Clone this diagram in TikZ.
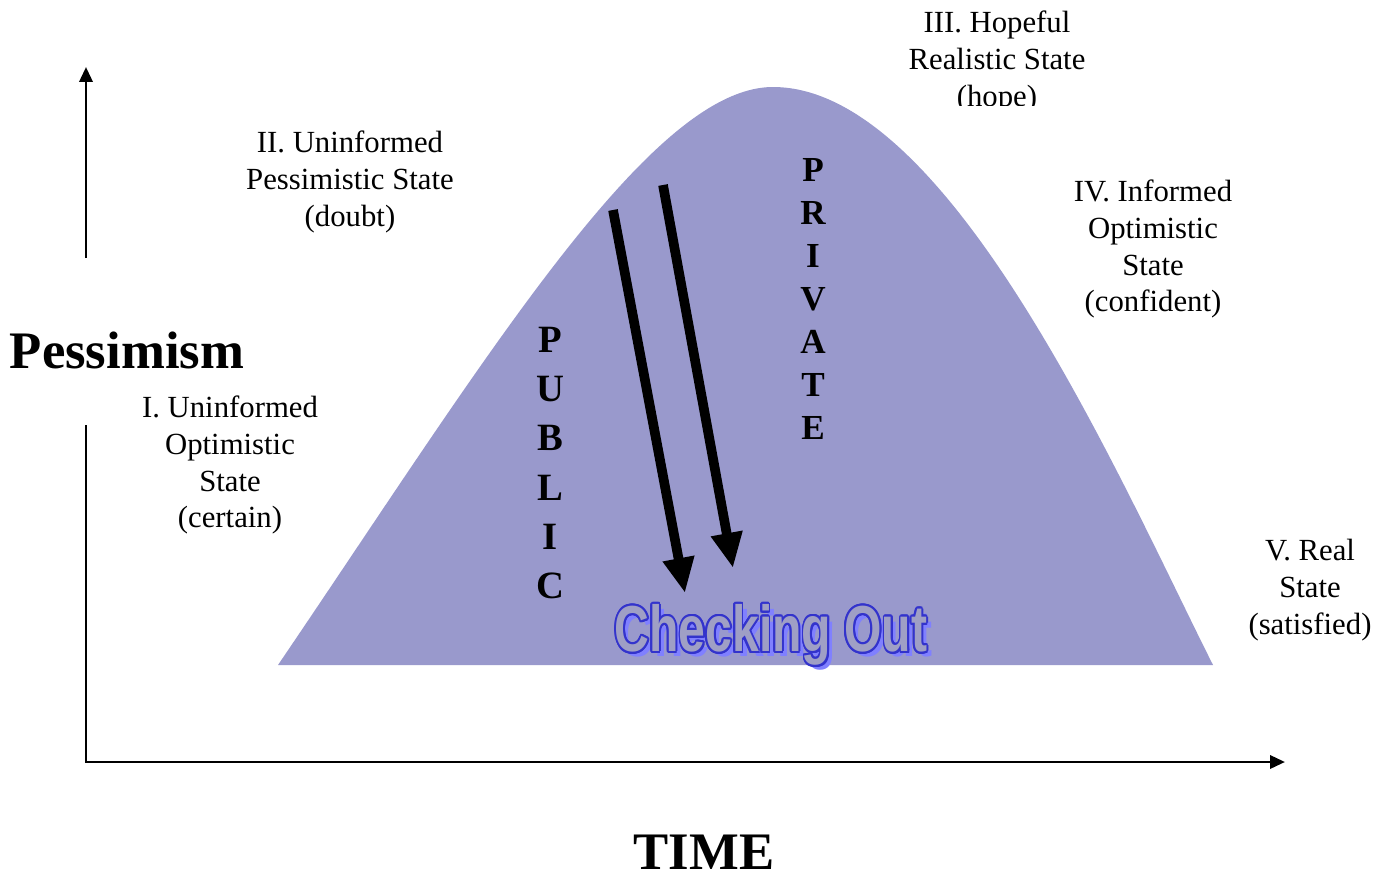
\documentclass[tikz,border=0pt]{standalone}
\usepackage{fontspec}
\setmainfont{Liberation Serif}
\newfontfamily\artfont{Liberation Sans}
\usetikzlibrary{arrows.meta}
\definecolor{hump}{HTML}{9999CC}
\definecolor{artfill}{HTML}{9F9FC5}
\definecolor{artline}{HTML}{3333CC}
\definecolor{artshade}{HTML}{8080FF}
\tikzset{
  state/.style={align=center, font=\fontsize{17.5}{21}\selectfont},
  stack/.style 2 args={align=center, font=\fontsize{#1}{#2}\selectfont\bfseries},
  art/.style={font=\fontsize{37}{40}\artfont\bfseries, xscale=.74, inner sep=0pt},
}
\begin{document}
\begin{tikzpicture}[x=0.02cm, y=-0.02cm, >={Triangle[length=8.5pt,width=7.5pt]}]
    \useasboundingbox (0,0) rectangle (1384,873);
    % the hump
    \fill[hump](278,665) .. controls (485,360) and (650,87) .. (773,87)
        .. controls (950,87) and (1120,480) .. (1213,665) -- cycle;
    % axes
    \coordinate (ylow) at (86,258);
    \coordinate (ytop) at (86,67);
    \coordinate (ymid) at (86,425);
    \coordinate (orig) at (86,762);
    \coordinate (xend) at (1285,762);
    \draw[->, line width=1.6pt](ylow)--(ytop);
    \draw[->, line width=1.6pt](ymid)--(orig)--(xend);
    \node[font=\fontsize{30}{30}\selectfont\bfseries, inner sep=0pt] (pess) at (127,350) {Pessimism};
    \node[font=\fontsize{30}{30}\selectfont\bfseries, inner sep=0pt] (time) at (704,852) {TIME};
    % states
    \begin{scope}
        \clip (880,0) rectangle (1110,105);
        \node[state] (hope) at (997,62) {III. Hopeful\\Realistic State\\(hope)};
    \end{scope}
    \node[state] (doubt) at (350,182) {II. Uninformed\\Pessimistic State\\(doubt)};
    \node[state] (confident) at (1153,249) {IV. Informed\\Optimistic\\State\\(confident)};
    \node[state] (certain) at (230,465) {I. Uninformed\\Optimistic\\State\\(certain)};
    \node[state] (satisfied) at (1310,590) {V. Real\\State\\(satisfied)};
    % public / private
    \node[stack={22}{28}] (public) at (550,463) {P\\U\\B\\L\\I\\C};
    \node[stack={20}{24.4}] (private) at (813,299) {P\\R\\I\\V\\A\\T\\E};
    \coordinate (pubA) at (613,210);
    \coordinate (pubB) at (685,593);
    \coordinate (priA) at (663,185);
    \coordinate (priB) at (733,568);
    \draw[-{Triangle[length=20pt,width=17pt]}, line width=5.5pt](pubA)--(pubB);
    \draw[-{Triangle[length=20pt,width=17pt]}, line width=5.5pt](priA)--(priB);
    % checking out
    \node[art, text=artshade] at (776,640) {Checking Out};
    \foreach \a in {0,20,...,340}
        \node[art, text=artline, xshift={1.3pt*cos(\a)}, yshift={1.3pt*sin(\a)}] at (771,635) {Checking Out};
    \node[art, text=artfill] (checkout) at (771,635) {Checking Out};
\end{tikzpicture}
\end{document}
